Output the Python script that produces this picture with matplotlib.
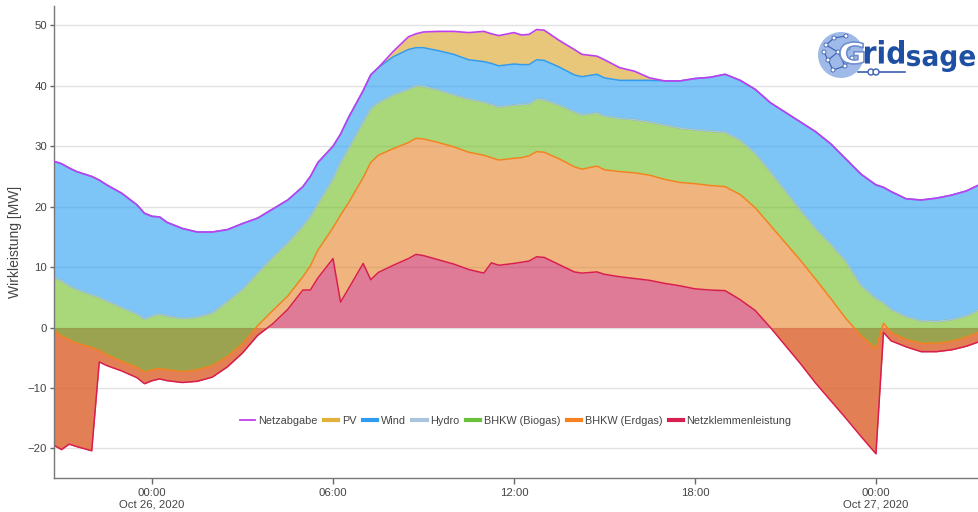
import numpy as np
import pandas as pd
import matplotlib
matplotlib.use('Agg')
import matplotlib.pyplot as plt
from matplotlib.lines import Line2D
from matplotlib.patches import Circle, PathPatch
from matplotlib.textpath import TextPath
from matplotlib.font_manager import FontProperties
from matplotlib.transforms import Affine2D, IdentityTransform

plt.rcParams['font.family'] = ['Liberation Sans', 'DejaVu Sans']

# Stunden relativ zu 26.10.2020 00:00
stunden = [-3.25, -3, -2.75, -2.5, -2, -1.75, -1.5, -1, -0.5, -0.25,
           0, 0.25, 0.5, 1, 1.5, 2, 2.5, 3, 3.5, 4,
           4.5, 5, 5.25, 5.5, 6, 6.25, 6.5, 7, 7.25, 7.5,
           8, 8.5, 8.75, 9, 9.5, 10, 10.5, 11, 11.25, 11.5,
           12, 12.25, 12.5, 12.75, 13, 13.5, 14, 14.25, 14.75, 15,
           15.5, 16, 16.5, 17, 17.5, 18, 18.5, 19, 19.5, 20,
           20.5, 21, 21.5, 22, 22.5, 23, 23.5, 24, 24.25, 24.5,
           25, 25.5, 26, 26.5, 27, 27.5]

# Leistungen in MW (gestapelt in dieser Reihenfolge)
netzklemmen = [-19.5, -20.2, -19.3, -19.7, -20.4, -5.7, -6.3, -7.2, -8.3, -9.3,
               -8.8, -8.5, -8.8, -9.1, -8.9, -8.2, -6.5, -4.2, -1.3, 0.6,
               3.0, 6.2, 6.2, 8.2, 11.4, 4.2, 6.3, 10.6, 7.9, 9.1,
               10.3, 11.4, 12.1, 11.9, 11.2, 10.5, 9.6, 9.0, 10.7, 10.3,
               10.6, 10.8, 11.0, 11.7, 11.6, 10.4, 9.2, 9.0, 9.2, 8.8,
               8.4, 8.1, 7.8, 7.3, 6.9, 6.4, 6.2, 6.1, 4.6, 2.8,
               0.0, -3.0, -6.0, -9.2, -12.1, -15.0, -18.0, -20.9, -0.8, -2.2,
               -3.2, -4.0, -4.0, -3.7, -3.1, -2.2]
erdgas = [19.0, 18.8, 17.3, 17.1, 17.1, 1.9, 1.8, 1.6, 1.7, 1.9,
          1.8, 1.7, 1.8, 1.8, 1.9, 1.9, 1.7, 1.5, 1.6, 2.2,
          2.2, 2.2, 4.0, 4.6, 5.1, 14.4, 14.2, 14.2, 19.4, 19.4,
          19.3, 19.2, 19.2, 19.3, 19.4, 19.4, 19.4, 19.5, 17.4, 17.4,
          17.4, 17.3, 17.4, 17.4, 17.4, 17.5, 17.4, 17.2, 17.5, 17.3,
          17.4, 17.5, 17.4, 17.2, 17.1, 17.4, 17.3, 17.2, 17.4, 17.0,
          16.9, 17.0, 17.1, 17.2, 16.9, 16.5, 16.7, 17.4, 1.5, 1.4,
          1.2, 1.4, 1.4, 1.4, 1.5, 1.6]
biogas = [8.8, 9.1, 8.9, 8.9, 8.7, 8.8, 8.9, 8.9, 8.8, 8.8,
          8.9, 9.0, 8.9, 8.8, 8.7, 8.7, 9.1, 9.0, 8.7, 8.8,
          8.8, 8.4, 8.2, 7.7, 8.1, 8.7, 9.0, 9.2, 8.9, 8.7,
          8.9, 8.8, 8.7, 8.7, 8.7, 8.6, 8.8, 8.8, 8.8, 8.8,
          8.8, 8.8, 8.6, 8.7, 8.7, 8.9, 9.1, 9.0, 8.8, 8.9,
          8.8, 8.8, 8.8, 9.0, 9.0, 8.9, 9.0, 9.0, 9.0, 9.0,
          8.9, 8.6, 8.3, 8.4, 9.0, 9.5, 8.3, 8.3, 3.4, 3.8,
          3.8, 3.7, 3.6, 3.6, 3.5, 3.7]
hydro = [0.0, 0.0, 0.0, 0.0, 0.0, 0.0, 0.0, 0.0, 0.0, 0.0,
         0.0, 0.0, 0.0, 0.0, 0.0, 0.0, 0.0, 0.0, 0.0, 0.0,
         0.0, 0.0, 0.0, 0.0, 0.0, 0.0, 0.0, 0.0, 0.0, 0.0,
         0.0, 0.0, 0.0, 0.0, 0.0, 0.0, 0.0, 0.0, 0.0, 0.0,
         0.0, 0.0, 0.0, 0.0, 0.0, 0.0, 0.0, 0.0, 0.0, 0.0,
         0.0, 0.0, 0.0, 0.0, 0.0, 0.0, 0.0, 0.0, 0.0, 0.0,
         0.0, 0.0, 0.0, 0.0, 0.0, 0.0, 0.0, 0.0, 0.0, 0.0,
         0.0, 0.0, 0.0, 0.0, 0.0, 0.0]
wind = [19.2, 19.4, 19.5, 19.5, 19.6, 19.4, 19.2, 18.9, 18.1, 17.5,
        16.5, 16.1, 15.5, 14.9, 14.1, 13.4, 11.9, 10.9, 9.1, 8.0,
        7.1, 6.5, 6.6, 6.8, 5.4, 4.7, 5.1, 5.2, 5.6, 5.8,
        6.3, 6.6, 6.3, 6.4, 6.5, 6.7, 6.5, 6.7, 6.8, 6.8,
        6.8, 6.6, 6.5, 6.5, 6.5, 6.3, 6.1, 6.3, 6.4, 6.3,
        6.3, 6.5, 6.9, 7.3, 7.8, 8.5, 8.9, 9.6, 9.9, 10.6,
        11.4, 13.0, 14.6, 16.0, 16.6, 16.9, 18.4, 18.8, 19.1, 19.5,
        19.5, 20.0, 20.4, 20.6, 20.7, 20.7]
pv = [0.0, 0.0, 0.0, 0.0, 0.0, 0.0, 0.0, 0.0, 0.0, 0.0,
      0.0, 0.0, 0.0, 0.0, 0.0, 0.0, 0.0, 0.0, 0.0, 0.0,
      0.0, 0.0, 0.0, 0.0, 0.0, 0.0, 0.0, 0.0, 0.0, 0.0,
      0.9, 2.1, 2.3, 2.6, 3.2, 3.8, 4.5, 5.0, 4.9, 5.0,
      5.2, 4.9, 5.0, 5.0, 5.0, 4.4, 4.2, 3.7, 3.0, 3.0,
      2.1, 1.5, 0.4, 0.0, 0.0, 0.0, 0.0, 0.0, 0.0, 0.0,
      0.0, 0.0, 0.0, 0.0, 0.0, 0.0, 0.0, 0.0, 0.0, 0.0,
      0.0, 0.0, 0.0, 0.0, 0.0, 0.0]

zeit = pd.Timestamp('2020-10-26') + pd.to_timedelta(stunden, unit='h')

# stack: (name, values, line colour, fill colour)
schichten = [
    ('Netzklemmenleistung', netzklemmen, '#d81e50', '#cb2352'),
    ('BHKW (Erdgas)', erdgas, '#f5821f', '#e6822a'),
    ('BHKW (Biogas)', biogas, '#6cc13c', '#6ebe21'),
    ('Hydro', hydro, '#aac4df', '#aac4df'),
    ('Wind', wind, '#2f9cf0', '#269df3'),
    ('PV', pv, '#e0b23c', '#d9a321'),
]
stufen = np.cumsum([np.array(s[1]) for s in schichten], axis=0)
netzabgabe = stufen[-1]

fig = plt.figure(figsize=(9.79, 5.12), dpi=100)
ax = fig.add_axes([54 / 979, 34 / 512, 925 / 979, 472 / 512])

for y in range(-20, 51, 10):
    ax.axhline(y, color='#e2e2e2', lw=1, zorder=0)

unten = np.zeros(len(zeit))
for i, (name, werte, lc, fc) in enumerate(schichten):
    oben = stufen[i]
    if name != 'Hydro':
        ax.fill_between(zeit, unten, oben, color=fc, alpha=0.6, lw=0, zorder=1)
    unten = oben
for i, (name, werte, lc, fc) in enumerate(schichten):
    if name == 'PV':
        continue
    ax.plot(zeit, stufen[i], color=lc, lw=1.1, zorder=2)
ax.plot(zeit, netzabgabe, color='#bf3fef', lw=1.2, zorder=3)

ax.set_xlim(pd.Timestamp('2020-10-25 20:45'), pd.Timestamp('2020-10-27 03:25'))
ax.set_ylim(-24.9, 53.2)

ticks = [pd.Timestamp('2020-10-26 00:00'), pd.Timestamp('2020-10-26 06:00'),
         pd.Timestamp('2020-10-26 12:00'), pd.Timestamp('2020-10-26 18:00'),
         pd.Timestamp('2020-10-27 00:00')]
ax.set_xticks(ticks)
ax.set_xticklabels(['00:00\nOct 26, 2020', '06:00', '12:00', '18:00', '00:00\nOct 27, 2020'],
                   linespacing=1.2)
ax.set_yticks(range(-20, 51, 10))
ax.tick_params(axis='both', colors='#666666', labelcolor='#444444', labelsize=8.2,
               length=4, width=1)
ax.tick_params(axis='x', length=4, pad=3)
ax.tick_params(axis='y', length=3, pad=2)
for s in ['top', 'right']:
    ax.spines[s].set_visible(False)
for s in ['left', 'bottom']:
    ax.spines[s].set_color('#777777')
    ax.spines[s].set_linewidth(1)

ax.set_ylabel('Wirkleistung [MW]', fontsize=10, color='#444444')
ax.yaxis.set_label_coords(-0.0346, 0.5)

# legend
legend_items = [('Netzabgabe', '#bf3fef', 1.3), ('PV', '#e0b23c', 3), ('Wind', '#2f9cf0', 3),
                ('Hydro', '#aac4df', 3), ('BHKW (Biogas)', '#6cc13c', 3),
                ('BHKW (Erdgas)', '#f5821f', 3), ('Netzklemmenleistung', '#d81e50', 3)]
handles = [Line2D([], [], color=c, lw=w) for _, c, w in legend_items]
ax.legend(handles, [n for n, _, _ in legend_items], loc='center', bbox_to_anchor=(0.4995, 0.121),
          ncol=7, frameon=False, fontsize=7.8, handlelength=1.3, handletextpad=0.35,
          columnspacing=0.6, labelcolor='#444444')

# Gridsage logo (top right)
H = 512


def logo_text(text, x0, y0, x1, y1, color, edge=None):
    tp = TextPath((0, 0), text, size=100,
                  prop=FontProperties(family='DejaVu Sans', weight='bold'))
    bb = tp.get_extents()
    tr = (Affine2D().translate(-bb.x0, -bb.y0)
          .scale((x1 - x0) / bb.width, (y1 - y0) / bb.height)
          .translate(x0, H - y1))
    p = PathPatch(tr.transform_path(tp), facecolor=color,
                  edgecolor=edge if edge else 'none', lw=1.2,
                  transform=IdentityTransform(), zorder=10)
    fig.add_artist(p)


fig.add_artist(Circle((841, H - 55), 23, facecolor='#8eaee4', edgecolor='none', alpha=0.85,
                      transform=IdentityTransform(), zorder=9))
knoten = [(826, 45), (834, 38), (846, 36), (828, 60), (838, 52), (848, 48), (833, 70),
          (845, 66), (852, 58), (824, 52)]
verbindungen = [(0, 1), (1, 2), (0, 4), (4, 5), (3, 4), (3, 6), (6, 7), (7, 8), (4, 7), (9, 3)]
for a, b in verbindungen:
    fig.add_artist(Line2D([knoten[a][0], knoten[b][0]], [H - knoten[a][1], H - knoten[b][1]],
                          color='#3a5fb0', lw=0.8, transform=IdentityTransform(), zorder=9.5))
for kx, ky in knoten:
    fig.add_artist(Circle((kx, H - ky), 2, facecolor='white', edgecolor='#3a5fb0', lw=0.6,
                          transform=IdentityTransform(), zorder=9.6))
logo_text('G', 840, 42, 864, 64, 'white', edge='#6f8fcf')
logo_text('rid', 865, 40, 904, 64, '#1f4fa3')
logo_text('sage', 907, 50, 975, 72, '#1f4fa3')
fig.add_artist(Line2D([858, 905], [H - 72, H - 72], color='#3a5fb0', lw=1.2,
                      transform=IdentityTransform(), zorder=9))
for cx in (871, 876):
    fig.add_artist(Circle((cx, H - 72), 3, facecolor='white', edgecolor='#3a5fb0', lw=1,
                          transform=IdentityTransform(), zorder=9.5))

fig.savefig('out.png', dpi=100)
